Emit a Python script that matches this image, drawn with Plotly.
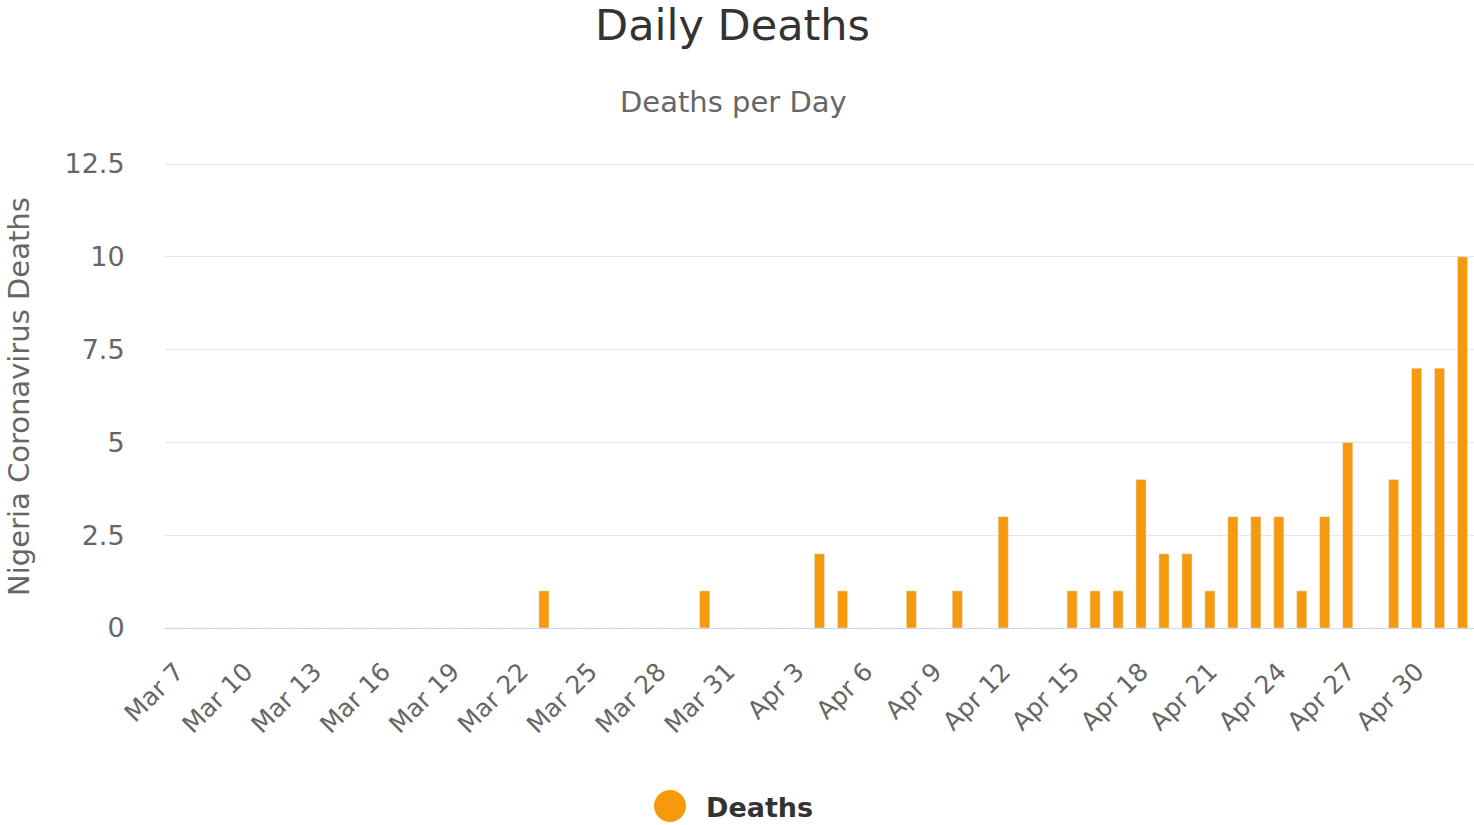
import plotly.graph_objects as go
import pandas as pd

dates = pd.date_range("2020-03-07", "2020-05-02", freq="D")
categories = [f"{d.strftime('%b')} {d.day}" for d in dates]
deaths = [0, 0, 0, 0, 0, 0, 0, 0, 0, 0, 0, 0, 0, 0, 0, 0,   # Mar 7 - Mar 22
          1, 0, 0, 0, 0, 0, 0, 1,                           # Mar 23 - Mar 30
          0, 0, 0, 0, 2, 1, 0, 0, 1, 0, 1, 0, 3,            # Mar 31 - Apr 12
          0, 0, 1, 1, 1, 4, 2, 2, 1, 3, 3, 3, 1, 3, 5,      # Apr 13 - Apr 27
          0, 4, 7, 7, 10]                                   # Apr 28 - May 2
tick_labels = categories[::3]
y_ticks = [0, 2.5, 5, 7.5, 10, 12.5]
y_tick_text = ["0", "2.5", "5", "7.5", "10", "12.5"]
series_name = "Deaths"

ORANGE = "#F7990C"
FONT = "DejaVu Sans"

# pixel geometry helpers (plot area: x 165..1474, y 162..628)
L, R, T, B = 165, 0, 162, 197
PW, PH = 1474 - L - R, 825 - T - B
def px(x):
    return (x - L) / PW
def py(y):
    return (825 - B - y) / PH

fig = go.Figure()
fig.add_trace(go.Bar(x=categories, y=deaths, marker_color=ORANGE,
                     showlegend=False, name=series_name))

fig.update_layout(
    width=1474, height=825,
    margin=dict(l=L, r=R, t=T, b=B),
    paper_bgcolor="white", plot_bgcolor="white",
    bargap=0.56,
    font=dict(family=FONT, color="#666666"),
    title=dict(text="Daily Deaths", x=0.497, xref="container", xanchor="center",
               y=1 - 25 / 825, yref="container", yanchor="middle",
               font=dict(size=43, color="#333333", family=FONT)),
    showlegend=False,
    xaxis=dict(type="category", range=[-0.5, len(categories) - 0.5],
               tickmode="array", tickvals=tick_labels, ticktext=tick_labels,
               tickangle=-45, tickfont=dict(size=25, color="#666666"),
               showgrid=False, showline=True, linecolor="#ccd6eb", linewidth=1,
               ticks="outside", ticklen=18, tickcolor="rgba(0,0,0,0)"),
    yaxis=dict(range=[0, PH / 37.12], tickvals=y_ticks, ticktext=y_tick_text,
               tickfont=dict(size=27, color="#666666"),
               showgrid=True, gridcolor="#e6e6e6", gridwidth=1,
               zeroline=False, ticks="outside", ticklen=34,
               tickcolor="rgba(0,0,0,0)", showline=False),
    shapes=[
        dict(type="circle", xref="paper", yref="paper",
             x0=px(654), x1=px(686), y0=py(822), y1=py(790),
             fillcolor=ORANGE, line=dict(width=0)),
    ],
    annotations=[
        dict(text="Deaths per Day", xref="paper", yref="paper",
             x=px(733), y=py(102), xanchor="center", yanchor="middle",
             showarrow=False, font=dict(size=29, color="#666666", family=FONT)),
        dict(text="Nigeria Coronavirus Deaths", xref="paper", yref="paper",
             x=px(19), y=py(397), textangle=-90,
             xanchor="center", yanchor="middle", showarrow=False,
             font=dict(size=29, color="#666666", family=FONT)),
        dict(text="<b>" + series_name + "</b>", xref="paper", yref="paper",
             x=px(704), y=py(807), xanchor="left", yanchor="middle",
             showarrow=False, font=dict(size=27, color="#333333", family=FONT)),
    ],
)

fig.write_html("out.html")
